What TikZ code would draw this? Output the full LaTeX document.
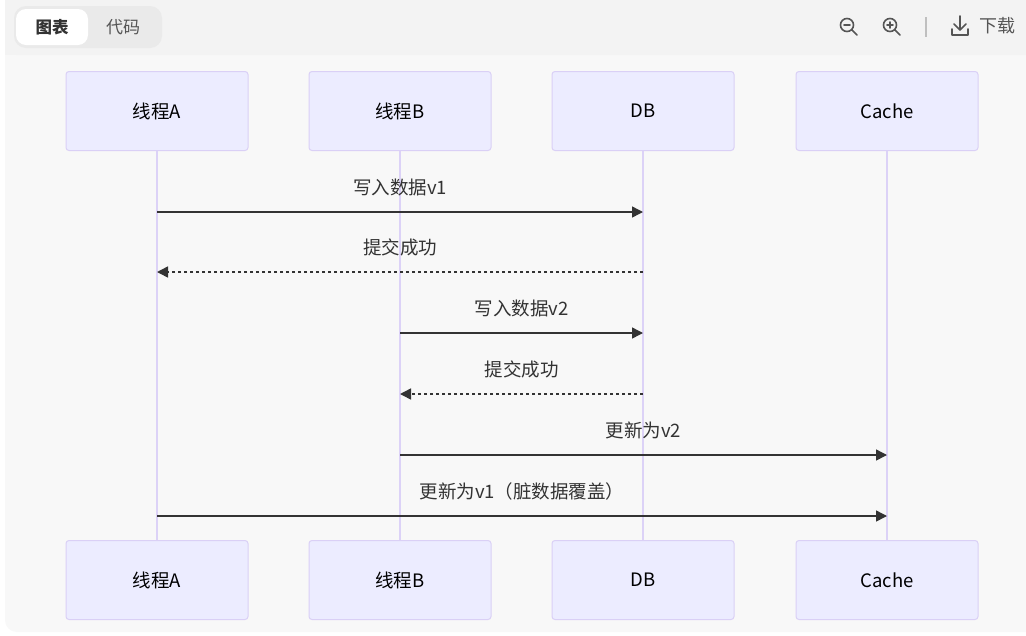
\documentclass[tikz,border=0pt]{standalone}
\usepackage{fontspec}
\setmainfont{Noto Sans CJK SC}
\usetikzlibrary{positioning,calc,arrows.meta}

\definecolor{boxfill}{HTML}{ECECFF}
\definecolor{boxline}{HTML}{DAD0F6}
\definecolor{lifeline}{HTML}{DCD2F7}
\definecolor{msgline}{HTML}{333333}
\definecolor{panel}{HTML}{F8F8F8}
\definecolor{toolbar}{HTML}{F3F3F3}
\definecolor{pill}{HTML}{EAEAEA}
\definecolor{icon}{HTML}{555555}

\begin{document}
\begin{tikzpicture}[x=1pt,y=-1pt,
  actor/.style={draw=boxline,fill=boxfill,line width=1pt,rounded corners=3pt,
    minimum width=182pt,minimum height=79pt,inner sep=0pt,text=black,
    font=\fontsize{18.5}{22}\selectfont},
  life/.style={draw=lifeline,line width=2pt},
  msg/.style={draw=msgline,line width=1.5pt,-{Triangle[length=11pt,width=11pt]}},
  reply/.style={msg,dash pattern=on 3pt off 3pt},
  lbl/.style={font=\fontsize{18.5}{22}\selectfont,text=msgline,inner sep=0pt},
  tool/.style={draw=icon,line width=1.6pt,line cap=round}
  ]
  \useasboundingbox (0,0) rectangle (1026,635);
  \fill[white] (0,0) rectangle (1026,635);
  \fill[panel,rounded corners=12pt] (5,-20) rectangle (1046,632);
  \fill[toolbar,rounded corners=12pt] (5,-20) rectangle (1046,55);
  \fill[toolbar] (5,30) rectangle (1046,55);

  % toolbar
  \fill[pill,rounded corners=12pt] (14,6) rectangle (162,48);
  \node[fill=white,rounded corners=10pt,minimum width=72pt,minimum height=36pt,
    font=\fontsize{16.5}{20}\selectfont\bfseries,text=msgline] (tab1) at (52,27) {图表};
  \node[font=\fontsize{17}{20}\selectfont,text=icon] (tab2) at (123,27) {代码};

  \draw[tool] (847,25) circle (6.5pt) (852,30) -- (857,35) (844,25) -- (850,25);
  \draw[tool] (890,25) circle (6.5pt) (895,30) -- (900,35) (887,25) -- (893,25)
    (890,22) -- (890,28);
  \draw[draw=black!25,line width=1.5pt] (926,17) -- (926,37);
  \draw[tool,line join=round] (960,16) -- (960,30) (954,24) -- (960,30) -- (966,24)
    (952,29) -- (952,35) -- (968,35) -- (968,29);
  \node[font=\fontsize{18}{21}\selectfont,text=icon] (dl) at (997,26) {下载};

  % participants
  \node[actor] (t01) at (157,111) {线程A};
  \node[actor] (t02) at (400,111) {线程B};
  \node[actor] (t03) at (643,111) {DB};
  \node[actor] (t04) at (887,111) {Cache};

  \node[actor,below=389pt of t01] (b01) {线程A};
  \node[actor,below=389pt of t02] (b02) {线程B};
  \node[actor,below=389pt of t03] (b03) {DB};
  \node[actor,below=389pt of t04] (b04) {Cache};

  \path[life]
  (t01) -- (b01)
  (t02) -- (b02)
  (t03) -- (b03)
  (t04) -- (b04);

  % message points on the lifelines
  \coordinate (a1) at (t01 |- 0,212);
  \coordinate (d1) at (t03 |- 0,212);
  \coordinate (a2) at (t01 |- 0,272);
  \coordinate (d2) at (t03 |- 0,272);
  \coordinate (b3) at (t02 |- 0,333);
  \coordinate (d3) at (t03 |- 0,333);
  \coordinate (b4) at (t02 |- 0,394);
  \coordinate (d4) at (t03 |- 0,394);
  \coordinate (b5) at (t02 |- 0,455);
  \coordinate (c5) at (t04 |- 0,455);
  \coordinate (a6) at (t01 |- 0,516);
  \coordinate (c6) at (t04 |- 0,516);

  \draw[msg]   (a1) -- node[lbl,above=25pt,anchor=center] {写入数据v1} (d1);
  \draw[reply] (d2) -- node[lbl,above=25pt,anchor=center] {提交成功} (a2);
  \draw[msg]   (b3) -- node[lbl,above=25pt,anchor=center] {写入数据v2} (d3);
  \draw[reply] (d4) -- node[lbl,above=25pt,anchor=center] {提交成功} (b4);
  \draw[msg]   (b5) -- node[lbl,above=25pt,anchor=center] {更新为v2} (c5);
  \draw[msg]   (a6) -- node[lbl,above=25pt,anchor=center] {更新为v1（脏数据覆盖）} (c6);
\end{tikzpicture}
\end{document}
